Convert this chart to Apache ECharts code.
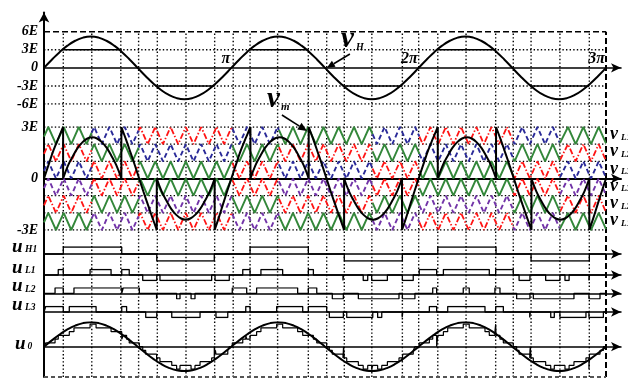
<!DOCTYPE html>
<html>
<head>
<meta charset="utf-8">
<script src="https://cdn.jsdelivr.net/npm/echarts@6/dist/echarts.min.js"></script>
<style>
html,body{margin:0;padding:0;background:#fff}
#chart{width:628px;height:379px}
</style>
</head>
<body>
<div id="chart"></div>
<script>
// ---- time axis: one modulation period = 1 unit, labelled π, 2π, 3π ----
const xTickLabels = ['', 'π', '2π', '3π'];

// one period of the modulating wave v_m (units of E)
const vmPeriod = [[0,0],[0.0417,1.35],[0.0833,2.6],[0.125,3.68],[0.1667,4.5],[0.2083,5.02],[0.25,5.2],[0.2917,5.02],[0.3333,4.5],[0.375,3.68],[0.4167,2.6],[0.4583,1.35],[0.5,0],[0.5417,-1.35],[0.5833,-2.6],[0.625,-3.68],[0.6667,-4.5],[0.7083,-5.02],[0.75,-5.2],[0.7917,-5.02],[0.8333,-4.5],[0.875,-3.68],[0.9167,-2.6],[0.9583,-1.35],[1,0]];

// one period of the fundamental drawn over the output u0
const u0Period = [[0,0],[0.0417,1.68],[0.0833,3.25],[0.125,4.6],[0.1667,5.63],[0.2083,6.28],[0.25,6.5],[0.2917,6.28],[0.3333,5.63],[0.375,4.6],[0.4167,3.25],[0.4583,1.68],[0.5,0],[0.5417,-1.68],[0.5833,-3.25],[0.625,-4.6],[0.6667,-5.63],[0.7083,-6.28],[0.75,-6.5],[0.7917,-6.28],[0.8333,-5.63],[0.875,-4.6],[0.9167,-3.25],[0.9583,-1.68],[1,0]];

// reference left for the low-voltage cells (v_m minus the H-bridge level), one period
const vmLowPieces = [
  [[0,0],[0.026,0.85],[0.051,1.65],[0.077,2.35],[0.102,3]],
  [[0.102,3],[0.102,0]],
  [[0.102,0],[0.128,0.75],[0.154,1.3],[0.18,1.78],[0.206,2.12],[0.232,2.33],[0.2575,2.4],[0.283,2.33],[0.309,2.12],[0.335,1.78],[0.361,1.3],[0.387,0.75],[0.413,0]],
  [[0.413,0],[0.413,3]],
  [[0.413,3],[0.437,2.29],[0.461,1.54],[0.485,0.77],[0.508,0],[0.531,-0.77],[0.555,-1.54],[0.579,-2.29],[0.602,-3]],
  [[0.602,-3],[0.602,0]],
  [[0.602,0],[0.628,-0.75],[0.654,-1.3],[0.68,-1.78],[0.706,-2.12],[0.732,-2.33],[0.7565,-2.4],[0.781,-2.33],[0.807,-2.12],[0.833,-1.78],[0.859,-1.3],[0.885,-0.75],[0.911,0]],
  [[0.911,0],[0.911,-3]],
  [[0.911,-3],[0.934,-2.25],[0.957,-1.45],[0.979,-0.7],[1,0]]
];

// switching instants marked with dotted verticals
const gridTimes = [0.103,0.255,0.41,0.505,0.605,0.758,0.911,1.01,1.1,1.247,1.411,1.509,1.603,1.75,1.913,2.0,2.102,2.253,2.411,2.505,2.6,2.754,2.911];

// triangular carriers: peak instants, rotation edges and order
const carrierPeaks = [0.023,0.105,0.186,0.268,0.349,0.431,0.513,0.594,0.676,0.757,0.839,0.921,1.002,1.084,1.165,1.247,1.329,1.410,1.492,1.573,1.655,1.737,1.818,1.900,1.981,2.063,2.145,2.226,2.308,2.389,2.471,2.553,2.634,2.716,2.797,2.879,2.961];
const carrierEdges = [0,0.254,0.505,1.005,1.254,1.754,2.004,2.505,2.754,3];
const carrierOrder = [0,1,2,1,0,1,2,1,0];
const bandFloors = [2,1,0,-1,-2,-3];
const carrierSets = [
  ['G','R','B','P','R','G'],
  ['B','G','R','R','G','P'],
  ['R','B','G','G','P','R']
];

// gate signals: [start, end, level]
const uH1 = [[0.103,0.415,1],[0.602,0.909,-1],[1.100,1.411,1],[1.603,1.913,-1],[2.102,2.413,1],[2.600,2.911,-1]];
const uL1 = [[0.076,0.103,1],[0.246,0.358,1],[0.415,0.455,1],[0.527,0.602,-1],[0.619,0.895,-1],[0.913,0.989,-1],[1.061,1.100,1],[1.158,1.274,1],[1.411,1.438,1],[1.596,1.599,-1],[1.704,1.728,-1],[1.749,1.833,-1],[1.913,1.971,-1],[2.003,2.096,1],[2.132,2.377,1],[2.411,2.505,1],[2.536,2.594,-1],[2.678,2.754,-1],[2.781,2.803,-1],[2.909,2.912,-1]];
const uL2 = [[0.059,0.103,1],[0.160,0.415,1],[0.423,0.509,1],[0.601,0.604,-1],[0.708,0.726,-1],[0.785,0.806,-1],[0.912,0.915,-1],[1.005,1.082,1],[1.135,1.354,1],[1.411,1.456,1],[1.539,1.598,-1],[1.678,1.895,-1],[1.913,1.980,-1],[2.075,2.096,1],[2.238,2.270,1],[2.407,2.434,1],[2.523,2.594,-1],[2.612,2.829,-1],[2.909,2.968,-1]];
const uL3 = [[0.009,0.103,1],[0.135,0.278,1],[0.415,0.441,1],[0.543,0.602,-1],[0.682,0.833,-1],[0.918,0.981,-1],[1.077,1.100,1],[1.242,1.381,1],[1.411,1.509,1],[1.523,1.598,-1],[1.616,1.755,-1],[1.781,1.803,-1],[1.912,1.915,-1],[2.057,2.096,1],[2.155,2.354,1],[2.411,2.452,1],[2.593,2.596,-1],[2.705,2.724,-1],[2.754,2.893,-1],[2.909,2.986,-1]];
const hBridgeLevel = 3;   // H-bridge cell voltage in E

const topLevelsDotted = [3, -3, -6];
const topLevelDashed = 6;
const midLevels = [3, 2, 1, -1, -2, -3];
const vLSubs = ['L1','L2','L3','L3','L2','L1'];

// ---- layout ----
const LEFT = 44, WIDTH = 577, PX_PER_UNIT = 562 / 3;
const X_MAX = WIDTH / PX_PER_UNIT;
const X_END = 3;
const SERIF = '"Liberation Serif","Times New Roman",serif';

function tile(period, cycles) {
  const out = [];
  for (let k = 0; k < cycles; k++) {
    period.forEach((p, i) => { if (k > 0 && i === 0) return; out.push([p[0] + k, p[1]]); });
  }
  return out;
}
function pieces(list) {
  const out = [];
  list.forEach(pc => { pc.forEach(p => out.push(p)); out.push([pc[pc.length - 1][0], '-']); });
  return out;
}
function pulseTrain(intervals) {
  const pts = [[0, 0]];
  intervals.forEach(([a, b, l]) => { pts.push([a, 0], [a, l], [b, l], [b, 0]); });
  pts.push([X_END, 0]);
  return pts;
}
function levelAt(intervals, t) {
  for (const [a, b, l] of intervals) if (t >= a && t < b) return l;
  return 0;
}
function staircase() {
  const edges = new Set([0, X_END]);
  [uH1, uL1, uL2, uL3].forEach(s => s.forEach(([a, b]) => { edges.add(a); edges.add(b); }));
  const e = Array.from(edges).sort((p, q) => p - q);
  const lv = t => hBridgeLevel * levelAt(uH1, t) + levelAt(uL1, t) + levelAt(uL2, t) + levelAt(uL3, t);
  const pts = [];
  for (let i = 0; i < e.length - 1; i++) {
    const v = lv((e[i] + e[i + 1]) / 2);
    pts.push([e[i], v], [e[i + 1], v]);
  }
  return pts;
}

// carrier turning points (peaks at 1, valleys at 0 within a band)
const carrierTurns = (() => {
  const half = (carrierPeaks[1] - carrierPeaks[0]) / 2;
  const t = [[carrierPeaks[0] - half, 0]];
  carrierPeaks.forEach((p, i) => {
    t.push([p, 1]);
    const n = carrierPeaks[i + 1];
    t.push([n !== undefined ? (p + n) / 2 : p + half, 0]);
  });
  return t;
})();
function carrierAt(x) {
  for (let i = 0; i < carrierTurns.length - 1; i++) {
    const [a, va] = carrierTurns[i], [b, vb] = carrierTurns[i + 1];
    if (x >= a && x <= b) return va + (vb - va) * (x - a) / (b - a);
  }
  return 0;
}
function carrierData() {
  const out = { G: [], R: [], B: [], P: [] };
  for (let s = 0; s < carrierOrder.length; s++) {
    const a = carrierEdges[s], b = carrierEdges[s + 1];
    const set = carrierSets[carrierOrder[s]];
    bandFloors.forEach((lo, bi) => {
      const arr = out[set[bi]];
      arr.push([a, lo + carrierAt(a)]);
      carrierTurns.forEach(([t, v]) => { if (t > a && t < b) arr.push([t, lo + v]); });
      arr.push([b, lo + carrierAt(b)]);
      arr.push([b, '-']);
    });
  }
  return out;
}
const carrierStyles = {
  G: { color: '#33873a', width: 1.9, type: 'solid' },
  R: { color: '#ff1414', width: 1.8, type: [6, 2, 1.5, 2] },
  B: { color: '#2a2a98', width: 1.9, type: [5, 3] },
  P: { color: '#7234a8', width: 1.9, type: [5, 3] }
};

// ---- grids: 0 axis, 1 frame, 2 v_m panel, 3 carrier panel, 4-7 gate rows, 8 output ----
const gridBoxes = [[12.5, 364.5], [31.7, 345.3], [31.7, 72.3], [127, 103], [247, 14], [269.5, 11], [287.8, 11], [306.5, 11], [322.3, 48.8]];
const grids = gridBoxes.map(([top, h]) => ({ left: LEFT, top, width: WIDTH, height: h, containLabel: false }));

const labelFont = { fontFamily: SERIF, fontWeight: 'bold', fontStyle: 'italic', color: '#000' };
const arrowLine = (w) => ({ show: true, onZero: true, symbol: ['none', 'arrow'], symbolSize: [7, 10], lineStyle: { color: '#000', width: w } });

const xAxes = grids.map((g, i) => {
  const ax = { type: 'value', gridIndex: i, min: 0, max: X_MAX, interval: 1,
    axisTick: { show: false }, splitLine: { show: false }, axisLabel: { show: false }, axisLine: { show: false } };
  if (i === 2) ax.axisLine = arrowLine(1.6);
  else if (i === 3) ax.axisLine = arrowLine(2);
  else if (i >= 4) ax.axisLine = arrowLine(1.5);
  return ax;
});
const yRanges = [[0, 1], [0, 1], [-6, 6], [-3, 3], [-1, 1], [-1, 1], [-1, 1], [-1, 1], [-6.5, 6.5]];
const yAxes = yRanges.map(([mn, mx], i) => {
  const ax = { type: 'value', gridIndex: i, min: mn, max: mx, axisTick: { show: false }, splitLine: { show: false },
    axisLabel: { show: false }, axisLine: { show: false } };
  if (i === 0) ax.axisLine = { show: true, symbol: ['none', 'arrow'], symbolSize: [8, 10], lineStyle: { color: '#000', width: 2 } };
  if (i === 2) {
    ax.interval = 3;
    ax.axisLabel = Object.assign({ show: true, margin: 6, fontSize: 14, formatter: v => v === 0 ? '0' : v + 'E' }, labelFont);
  }
  if (i === 3) {
    ax.interval = 1;
    ax.axisLabel = Object.assign({ show: true, margin: 6, fontSize: 14,
      formatter: v => (v === 0 ? '0' : Math.abs(v) === 3 ? v + 'E' : '') }, labelFont);
  }
  return ax;
});

function line(gi, data, style, extra) {
  return Object.assign({ type: 'line', xAxisIndex: gi, yAxisIndex: gi, data, symbol: 'none', showSymbol: false,
    silent: true, animation: false, connectNulls: false, lineStyle: style }, extra || {});
}

const dotted = { color: '#000', width: 1.4, type: [1.4, 2.2] };
const series = [];

// dotted switching instants across all panels
const vData = [];
gridTimes.forEach(t => vData.push([t, 0], [t, 1], [t, '-']));
series.push(line(1, vData, dotted));
// frame
series.push(line(1, [[X_END, 0], [X_END, 1]], { color: '#000', width: 2, type: [6, 3] }));
series.push(line(1, [[0, 0], [X_END, 0]], { color: '#555', width: 2, type: [4, 3] }));
series.push(line(2, [[0, topLevelDashed], [X_END, topLevelDashed]], { color: '#000', width: 1.6, type: [6, 3] }));
// horizontal dotted levels
const tl = [];
topLevelsDotted.forEach(v => tl.push([0, v], [X_END, v], [X_END, '-']));
series.push(line(2, tl, dotted));
const ml = [];
midLevels.forEach(v => ml.push([0, v], [X_END, v], [X_END, '-']));
series.push(line(3, ml, dotted));

// carriers
const cd = carrierData();
['B', 'P', 'R', 'G'].forEach(k => series.push(line(3, cd[k], carrierStyles[k])));

// v_m residual on the carrier panel
const lowPieces = [];
for (let k = 0; k < 3; k++) vmLowPieces.forEach(pc => lowPieces.push(pc.map(([t, v]) => [t + k, v])));
series.push(line(3, pieces(lowPieces), { color: '#000', width: 2 }, { smooth: 0.4 }));

// v_m with the H-bridge level
series.push(line(2, tile(vmPeriod, 3), { color: '#000', width: 2 }, { smooth: 0.5 }));
series.push(line(2, pieces(uH1.map(([a, b, l]) => [[a, l * hBridgeLevel], [b, l * hBridgeLevel]])), { color: '#000', width: 1.6 }));

// gate signals
[uH1, uL1, uL2, uL3].forEach((s, i) => series.push(line(4 + i, pulseTrain(s), { color: '#000', width: 1.3 })));

// output
series.push(line(8, staircase(), { color: '#000', width: 1.2 }));
series.push(line(8, tile(u0Period, 3), { color: '#000', width: 2 }, { smooth: 0.5 }));

const chart = echarts.init(document.getElementById('chart'), null, { renderer: 'canvas' });
chart.setOption({
  animation: false,
  backgroundColor: '#fff',
  grid: grids,
  xAxis: xAxes,
  yAxis: yAxes,
  series
});

// ---- annotations ----
const font = (size) => 'italic bold ' + size + 'px ' + SERIF;
function txt(x, y, s, size, align, vAlign) {
  return { type: 'text', x, y, silent: true, z: 50,
    style: { text: s, font: font(size), fill: '#000', align: align || 'left', verticalAlign: vAlign || 'middle',
      textAlign: align || 'left', textVerticalAlign: vAlign || 'middle' } };
}
function arrow(p, q, head, w) {
  const dx = q[0] - p[0], dy = q[1] - p[1], len = Math.hypot(dx, dy);
  const ux = dx / len, uy = dy / len;
  const bx = q[0] - ux * head, by = q[1] - uy * head;
  return [
    { type: 'line', silent: true, z: 50, shape: { x1: p[0], y1: p[1], x2: bx, y2: by }, style: { stroke: '#000', lineWidth: 1.6 } },
    { type: 'polygon', silent: true, z: 50, shape: { points: [[q[0], q[1]], [bx - uy * w, by + ux * w], [bx + uy * w, by - ux * w]] }, style: { fill: '#000' } }
  ];
}
const px = (gi, pt) => chart.convertToPixel({ gridIndex: gi }, pt);
const g = [];
// period labels above the time axis
[1, 2, 3].forEach(k => {
  const p = px(2, [k, 0]);
  g.push(txt(p[0] - 1, p[1] - 9, xTickLabels[k], 16, 'right', 'middle'));
});
// v_H
g.push(...arrow(px(2, [1.633, 2.3]), px(2, [1.51, 0]), 8, 3.5));
g.push(txt(341, 40, 'v', 29), txt(356, 47.5, 'H', 10));
// v_m
g.push(...arrow(px(3, [1.27, 3.7]), px(3, [1.404, 2.77]), 9, 4));
g.push(txt(267, 100, 'v', 29), txt(281, 107.5, 'm', 11));
// carrier labels on the right
bandFloors.forEach((lo, i) => {
  const y = px(3, [0, lo + 0.5])[1];
  g.push(txt(610, y - 1, 'v', 18), txt(621, y + 2, vLSubs[i], 9));
});
// gate and output labels
[['H1', 4], ['L1', 5], ['L2', 6], ['L3', 7]].forEach(([s, gi]) => {
  const y = px(gi, [0, 0])[1];
  g.push(txt(12, y - 7, 'u', 19), txt(25, y - 4, s, 9.5));
});
const y0 = px(8, [0, 0])[1];
g.push(txt(15, y0 - 3, 'u', 19), txt(27.5, y0, '0', 9.5));
chart.setOption({ graphic: g });
</script>
</body>
</html>
